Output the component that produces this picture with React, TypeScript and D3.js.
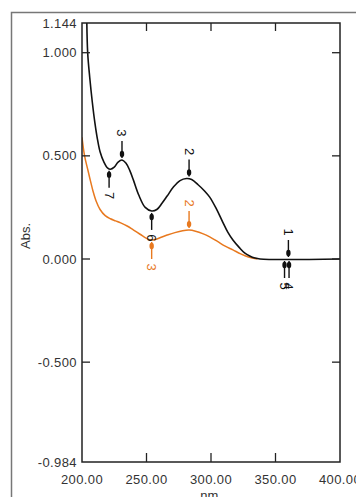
import { useEffect, useRef } from 'react';
import * as d3 from 'd3';

// black spectrum (nm, Abs)
const blackNm = [203.6, 204.4, 206, 208, 210, 212, 214, 217, 220, 222, 225, 228, 231, 234, 237, 240, 244, 249, 254, 258, 262, 266, 271, 276, 281, 285, 290, 295, 299, 304, 309, 313, 317, 322, 326, 330, 334, 338, 400];
const blackAbs = [1.2, 1.0, 0.88, 0.76, 0.66, 0.58, 0.52, 0.47, 0.44, 0.435, 0.445, 0.47, 0.48, 0.465, 0.43, 0.38, 0.31, 0.25, 0.233, 0.24, 0.27, 0.305, 0.35, 0.38, 0.39, 0.385, 0.36, 0.33, 0.3, 0.245, 0.18, 0.13, 0.092, 0.055, 0.03, 0.015, 0.005, 0.0, 0.0];

// orange spectrum
const orangeNm = [200, 202, 204.6, 206.5, 208.5, 211, 214, 218, 222, 226, 230, 235, 240, 245, 250, 254, 258, 262, 266, 272, 278, 283, 288, 294, 299, 305, 311, 317, 323, 329, 336];
const orangeAbs = [0.59, 0.5, 0.43, 0.38, 0.33, 0.28, 0.24, 0.21, 0.195, 0.185, 0.175, 0.16, 0.14, 0.12, 0.1, 0.092, 0.097, 0.107, 0.116, 0.128, 0.137, 0.14, 0.135, 0.122, 0.107, 0.085, 0.062, 0.044, 0.025, 0.01, 0.0];

// peak pick markers
const markerLabel = ['1', '2', '3', '4', '5', '6', '7', '2', '3'];
const markerNm = [360, 283, 231, 360.5, 357, 254, 221, 283, 254];
const markerAbs = [0, 0.39, 0.48, 0, 0, 0.233, 0.438, 0.14, 0.092];
const markerUp = [true, true, true, false, false, false, false, true, false];
const markerSeries = ['black', 'black', 'black', 'black', 'black', 'black', 'black', 'orange', 'orange'];

const yTicks = [1.144, 1.0, 0.5, 0.0, -0.5, -0.984];
const yTickLabels = ['1.144', '1.000', '0.500', '0.000', '-0.500', '-0.984'];
const yInnerTicks = [1.0, 0.5, 0.0, -0.5];
const xTicks = [200, 250, 300, 350, 400];
const xInnerTicks = [250, 300, 350];

const COLORS: Record<string, string> = { black: '#111111', orange: '#e8791f' };

const App = () => {
  const svgRef = useRef<SVGSVGElement>(null);

  useEffect(() => {
    const svg = d3.select(svgRef.current);
    svg.selectAll('*').remove();

    const left = 82, top = 23, right = 340, bottom = 462;
    const x = d3.scaleLinear().domain([200, 400]).range([left, right]);
    const y = d3.scaleLinear().domain([-0.984, 1.144]).range([bottom, top]);
    const font = 'Arial, "Liberation Sans", sans-serif';

    // outer frame
    svg.append('rect')
      .attr('x', 11.5).attr('y', 12.5)
      .attr('width', 400).attr('height', 520)
      .attr('fill', 'none').attr('stroke', '#777').attr('stroke-width', 1.5);

    svg.append('defs').append('clipPath').attr('id', 'plot-clip')
      .append('rect')
      .attr('x', left).attr('y', top)
      .attr('width', right - left).attr('height', bottom - top);

    // curves
    const line = d3.line<[number, number]>()
      .x(d => x(d[0]))
      .y(d => y(d[1]))
      .curve(d3.curveCatmullRom.alpha(0.5));

    const g = svg.append('g').attr('clip-path', 'url(#plot-clip)');
    g.append('path')
      .datum(orangeNm.map((n, i) => [n, orangeAbs[i]] as [number, number]))
      .attr('d', line)
      .attr('fill', 'none')
      .attr('stroke', COLORS.orange)
      .attr('stroke-width', 1.5);
    g.append('path')
      .datum(blackNm.map((n, i) => [n, blackAbs[i]] as [number, number]))
      .attr('d', line)
      .attr('fill', 'none')
      .attr('stroke', COLORS.black)
      .attr('stroke-width', 1.6);

    // plot border
    svg.append('rect')
      .attr('x', left).attr('y', top)
      .attr('width', right - left).attr('height', bottom - top)
      .attr('fill', 'none').attr('stroke', '#222').attr('stroke-width', 1.5);

    // inner ticks
    const tk = svg.append('g').attr('stroke', '#222').attr('stroke-width', 1.3);
    yInnerTicks.forEach(v => {
      tk.append('line').attr('x1', left).attr('x2', left + 8).attr('y1', y(v)).attr('y2', y(v));
      tk.append('line').attr('x1', right).attr('x2', right - 8).attr('y1', y(v)).attr('y2', y(v));
    });
    xInnerTicks.forEach(v => {
      tk.append('line').attr('x1', x(v)).attr('x2', x(v)).attr('y1', top).attr('y2', top + 8);
      tk.append('line').attr('x1', x(v)).attr('x2', x(v)).attr('y1', bottom).attr('y2', bottom - 9);
    });

    // tick labels
    svg.append('g').selectAll('text')
      .data(yTicks)
      .enter()
      .append('text')
      .attr('x', left - 5)
      .attr('y', d => y(d))
      .attr('dy', '0.35em')
      .attr('text-anchor', 'end')
      .attr('font-family', font)
      .attr('font-size', 13)
      .attr('letter-spacing', 0.4)
      .attr('fill', '#333')
      .text((d, i) => yTickLabels[i]);

    svg.append('g').selectAll('text')
      .data(xTicks)
      .enter()
      .append('text')
      .attr('x', d => x(d))
      .attr('y', 484)
      .attr('text-anchor', 'middle')
      .attr('font-family', font)
      .attr('font-size', 13)
      .attr('letter-spacing', 0.4)
      .attr('fill', '#333')
      .text(d => d3.format('.2f')(d));

    svg.append('text')
      .attr('transform', `translate(30,236) rotate(-90)`)
      .attr('text-anchor', 'middle')
      .attr('font-family', font)
      .attr('font-size', 13)
      .attr('fill', '#333')
      .text('Abs.');

    svg.append('text')
      .attr('x', x(300))
      .attr('y', 500)
      .attr('text-anchor', 'middle')
      .attr('font-family', font)
      .attr('font-size', 13)
      .attr('fill', '#333')
      .text('nm.');

    // markers
    const mk = svg.append('g');
    markerLabel.forEach((lab, i) => {
      const c = COLORS[markerSeries[i]];
      const px = x(markerNm[i]);
      const py = y(markerAbs[i]);
      const s = markerUp[i] ? -1 : 1;
      mk.append('line')
        .attr('x1', px).attr('x2', px)
        .attr('y1', py + s * 2).attr('y2', py + s * 19)
        .attr('stroke', c).attr('stroke-width', 1.4);
      mk.append('ellipse')
        .attr('cx', px).attr('cy', py + s * 6)
        .attr('rx', 2.2).attr('ry', 3.2)
        .attr('fill', c);
      mk.append('text')
        .attr('transform', `translate(${px},${py + s * 27}) rotate(90)`)
        .attr('text-anchor', 'middle')
        .attr('dy', '0.35em')
        .attr('font-family', font)
        .attr('font-size', 13)
        .attr('fill', c)
        .text(lab);
    });
  }, []);

  return (
    <svg
      ref={svgRef}
      width={356}
      height={497}
      style={{ position: 'absolute', left: 0, top: 0, background: '#fff' }}
    />
  );
};

export default App;
